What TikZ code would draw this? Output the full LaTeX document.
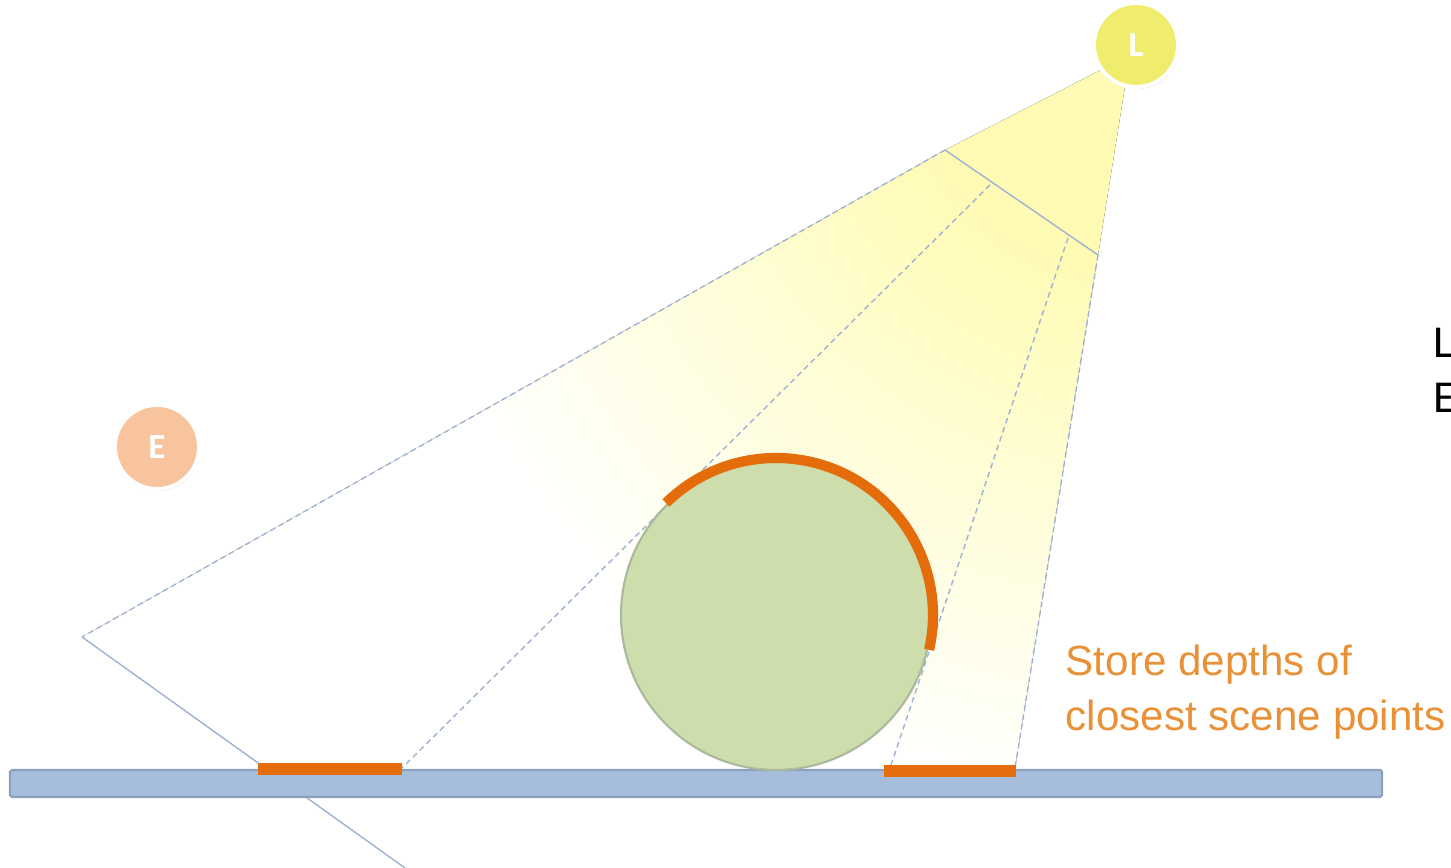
\documentclass[tikz,border=0pt]{standalone}
\usepackage{fontspec}
\setmainfont{Liberation Sans}
\newfontfamily\sidefont{Carlito}
\usetikzlibrary{shadows,calc}
\definecolor{lampyel}{RGB}{240,236,110}
\definecolor{eyepeach}{RGB}{247,196,158}
\definecolor{beamyel}{RGB}{255,251,180}
\definecolor{raygray}{RGB}{160,178,210}
\definecolor{floorblue}{RGB}{166,189,219}
\definecolor{floorline}{RGB}{140,160,190}
\definecolor{spheregreen}{RGB}{205,221,172}
\definecolor{spherebord}{RGB}{170,185,155}
\definecolor{depthorange}{RGB}{228,108,10}
\definecolor{noteorange}{RGB}{233,145,55}
\pgfdeclareradialshading{beamfade}{\pgfpoint{0bp}{0bp}}{color(0bp)=(beamyel); color(3bp)=(beamyel); color(11bp)=(white); color(50bp)=(white)}

\begin{document}
\begin{tikzpicture}[x=0.01cm,y=-0.01cm,
  ray/.style={draw=raygray,line width=0.4pt,dash pattern=on 1.6pt off 1.1pt},
  edge/.style={draw=raygray,line width=0.4pt},
  lamp/.style={circle,minimum size=0.84cm,inner sep=0pt,draw=white,line width=1.1pt,
               text=white,font=\sidefont\bfseries,
               drop shadow={shadow xshift=0.3pt,shadow yshift=-0.6pt,opacity=0.22}},
  depth/.style={draw=depthorange,line width=3.4pt},
  note/.style={anchor=base west,inner sep=0pt,text=noteorange,font=\fontsize{12}{15}\selectfont},
  side/.style={anchor=base west,inner sep=0pt,font=\sidefont\fontsize{13}{16}\selectfont}]
\useasboundingbox (0,0) rectangle (1451,868);
\coordinate (apex) at (1130,55);
\coordinate (n1) at (945,150);
\coordinate (n2) at (990,185);
\coordinate (n3) at (1068,238);
\coordinate (n4) at (1098,255);
\coordinate (far) at (82,637);
\coordinate (low) at (405,868);
\coordinate (d1) at (402,768);
\coordinate (d2) at (890,768);
\coordinate (d3) at (1015,768);
% light beam
\begin{scope}
  \clip (apex) -- (n1) -- (far) -- (d3) -- (n4) -- cycle;
  \fill[shading=beamfade] (apex) circle [radius=1700];
\end{scope}
\draw[white,line width=1.4pt] (far) -- (d3);
% rays
\draw[ray] (n1) -- (far);
\draw[edge] (far) -- (low);
\draw[edge] (n1) -- (n4);
\draw[ray] (n2) -- (d1);
\draw[ray] (n3) -- (d2);
\draw[ray] (n4) -- (d3);
% floor
\draw[fill=floorblue,draw=floorline,line width=0.6pt,rounded corners=0.5pt] (10,770) rectangle (1382,797);
\draw[depth] (258,769) -- (d1|-0,769);
\draw[depth] (884,771) -- (1016,771);
% sphere
\draw[fill=spheregreen,draw=spherebord,line width=0.6pt] (776,615) circle [radius=155];
\draw[depth,line width=2.9pt] (776,615) ++(225.5:157) arc [start angle=225.5,end angle=372.8,radius=157];
% lamps
\node[lamp,fill=lampyel] (light) at (1136,45) {L};
\node[lamp,fill=eyepeach] (eye) at (157,447) {E};
% labels
\node[note] (note1) at (1065,676) {Store depths of};
\node[note] (note2) at (1065,731) {closest scene points};
\node[side] (sideL) at (1433,358) {L};
\node[side] (sideE) at (1433,413) {E};
\end{tikzpicture}
\end{document}
